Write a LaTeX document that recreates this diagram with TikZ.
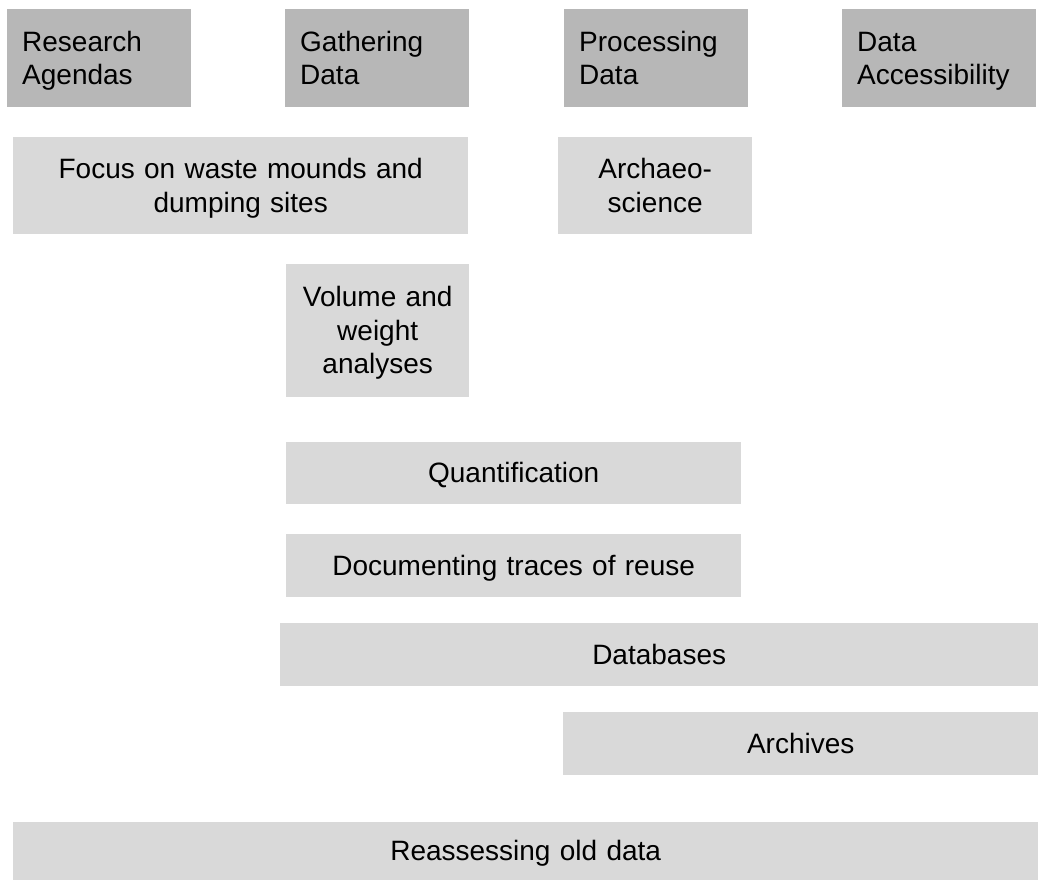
\documentclass[tikz,border=0pt]{standalone}
\usepackage{fontspec}
\setmainfont{Liberation Sans}
\usepackage{tikz}
\definecolor{headgray}{RGB}{183,183,183}
\definecolor{itemgray}{RGB}{217,217,217}
\newcommand{\cellstrut}{\rule[-7pt]{0pt}{33.5pt}}
\tikzset{
  cellbase/.style={draw=none, anchor=north west, inner ysep=0pt,
    font=\fontsize{28}{33.5}\selectfont},
  headbox/.style={cellbase, fill=headgray, align=left, inner xsep=15pt},
  itembox/.style={cellbase, fill=itemgray, align=center, inner xsep=5pt}
}
\newcommand{\headcell}[6]{%
  \pgfmathsetmacro{\cellw}{#4-30}
  \node[headbox, text width=\cellw pt, minimum height=#5pt] (#1) at (#2,#3) {\cellstrut #6\cellstrut};}
\newcommand{\itemcell}[6]{%
  \pgfmathsetmacro{\cellw}{#4-10}
  \node[itembox, text width=\cellw pt, minimum height=#5pt] (#1) at (#2,#3) {\cellstrut #6\cellstrut};}

\begin{document}
\begin{tikzpicture}[x=1pt, y=-1pt]
        \useasboundingbox (0,0) rectangle (1038,880);

        % header row
        \headcell{agenda}{7}{9}{184}{98}{Research\\Agendas}
        \headcell{gather}{285}{9}{184}{98}{Gathering\\Data}
        \headcell{process}{564}{9}{184}{98}{Processing\\Data}
        \headcell{access}{842}{9}{194}{98}{Data\\Accessibility}

        % second row
        \itemcell{focus}{13}{137}{455}{97}{Focus on waste mounds and\\dumping sites}
        \itemcell{archsci}{558}{137}{194}{97}{Archaeo-\\science}

        % gathering column
        \itemcell{volume}{286}{264}{183}{133}{Volume and\\weight\\analyses}
        \itemcell{quant}{286}{442}{455}{62}{Quantification}
        \itemcell{reuse}{286}{534}{455}{63}{Documenting traces of reuse}

        % towards accessibility
        \itemcell{dbase}{280}{623}{758}{63}{Databases}
        \itemcell{archive}{563}{712}{475}{63}{Archives}

        % bottom row
        \itemcell{olddata}{13}{822}{1025}{58}{Reassessing old data}
\end{tikzpicture}
\end{document}
